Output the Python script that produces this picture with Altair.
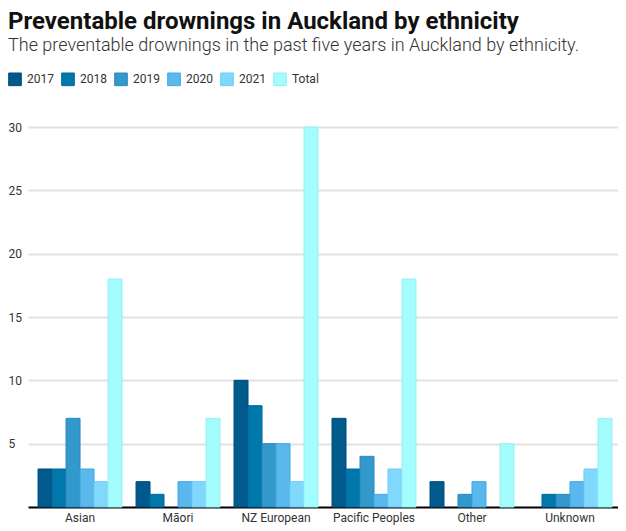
import altair as alt
import pandas as pd

ethnicities = ["Asian", "Māori", "NZ European", "Pacific Peoples", "Other", "Unknown"]
years = ["2017", "2018", "2019", "2020", "2021", "Total"]
v2017 = [3, 2, 10, 7, 2, 0]
v2018 = [3, 1, 8, 3, 0, 1]
v2019 = [7, 0, 5, 4, 1, 1]
v2020 = [3, 2, 5, 1, 2, 2]
v2021 = [2, 2, 2, 3, 0, 3]
total = [18, 7, 30, 18, 5, 7]
fill_colors = ["#005b8c", "#0078ac", "#3399cc", "#5bb8ec", "#80d8fc", "#a3fcfd"]
stroke_colors = ["#004a7a", "#0068a0", "#2a88c0", "#3ea8e4", "#6ccdf6", "#96f0f4"]
y_ticks = [5, 10, 15, 20, 25, 30]

series = [v2017, v2018, v2019, v2020, v2021, total]
rows = [
    {"ethnicity": e, "year": y, "value": s[i]}
    for y, s in zip(years, series)
    for i, e in enumerate(ethnicities)
]
df = pd.DataFrame(rows)

legend = alt.Legend(
    title=None,
    orient="none",
    legendX=-20,
    legendY=-55,
    direction="horizontal",
    symbolType="square",
    symbolSize=160,
    symbolStrokeWidth=1,
    symbolOpacity=1,
    labelFont="Roboto",
    labelFontSize=12,
    labelColor="#333333",
    labelOffset=5,
    columnPadding=5,
)

chart = (
    alt.Chart(df)
    .transform_filter("datum.value > 0")
    .mark_bar(strokeWidth=1, opacity=1)
    .encode(
        x=alt.X(
            "ethnicity:N",
            sort=ethnicities,
            title=None,
            scale=alt.Scale(paddingInner=0.143, paddingOuter=0.082, align=0.625),
            axis=alt.Axis(
                labelAngle=0,
                ticks=False,
                domainColor="#000000",
                domainWidth=2,
                labelFont="Roboto",
                labelFontSize=12,
                labelColor="#333333",
                labelPadding=5,
                grid=False,
            ),
        ),
        xOffset=alt.XOffset(
            "year:N",
            sort=years,
            scale=alt.Scale(domain=years, paddingInner=0, paddingOuter=0),
        ),
        y=alt.Y(
            "value:Q",
            title=None,
            scale=alt.Scale(domain=[0, 30], nice=False),
            axis=alt.Axis(
                values=y_ticks,
                domain=False,
                ticks=False,
                labelAlign="left",
                labelBaseline="middle",
                labelPadding=20,
                labelFont="Roboto",
                labelFontSize=12,
                labelColor="#333333",
                gridColor="#e2e2e2",
                gridWidth=2,
            ),
        ),
        fill=alt.Fill(
            "year:N",
            sort=years,
            scale=alt.Scale(domain=years, range=fill_colors),
            legend=legend,
        ),
        stroke=alt.Stroke(
            "year:N",
            sort=years,
            scale=alt.Scale(domain=years, range=stroke_colors),
            legend=legend,
        ),
    )
    .properties(
        width=590,
        height=380,
        padding={"left": 20, "top": 119, "right": 0, "bottom": 24},
        autosize=alt.AutoSizeParams(type="none"),
        title=alt.TitleParams(
            text="Preventable drownings in Auckland by ethnicity",
            subtitle="The preventable drownings in the past five years in Auckland by ethnicity.",
            anchor="start",
            font="Roboto",
            fontSize=24,
            fontWeight="bold",
            color="#111111",
            subtitleFont="Roboto",
            subtitleFontSize=18,
            subtitleFontWeight=300,
            subtitleColor="#333333",
            subtitlePadding=3,
            offset=17,
        ),
    )
    .configure_view(stroke=None)
)

chart.save("out.html", embed_options={"renderer": "svg", "actions": False})
